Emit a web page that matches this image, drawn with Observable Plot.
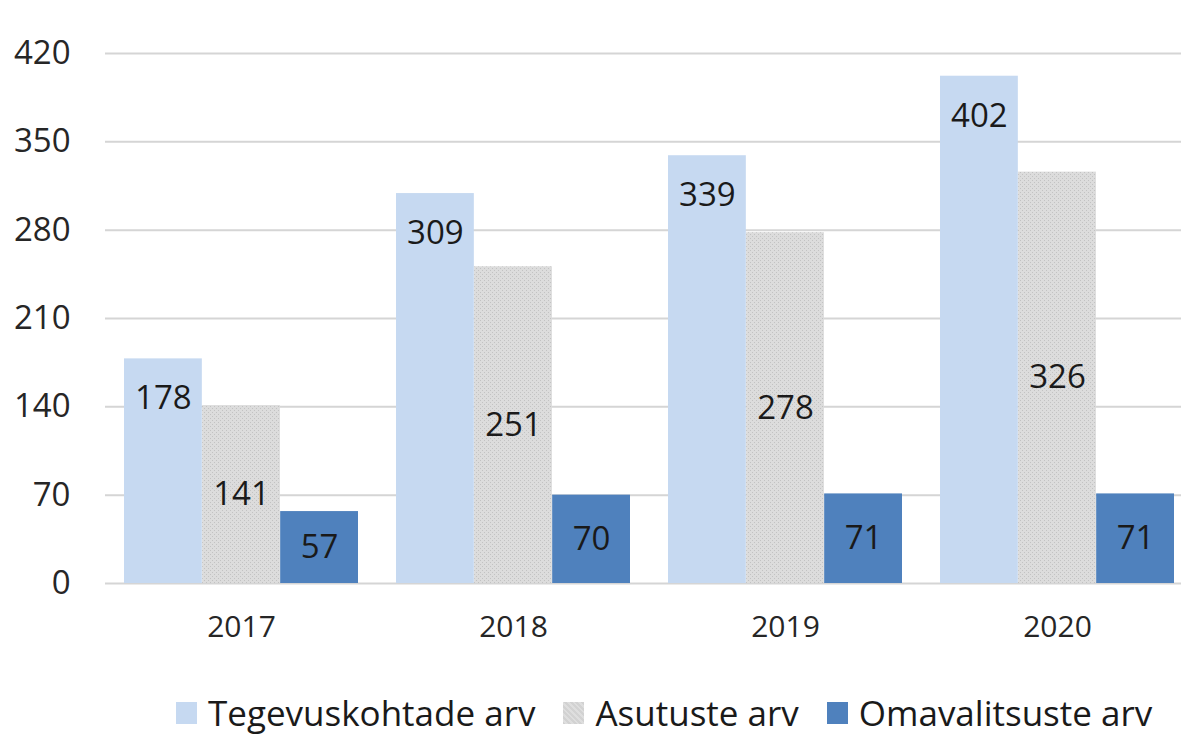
<!DOCTYPE html>
<html>
<head>
<meta charset="utf-8">
<script src="https://cdn.jsdelivr.net/npm/d3@7"></script>
<script src="https://cdn.jsdelivr.net/npm/@observablehq/plot@0.6"></script>
<style>
  html, body { margin: 0; padding: 0; background: #fff; overflow: hidden; }
  #wrap { position: relative; width: 1181px; height: 738px; overflow: hidden; font-family: "Open Sans", sans-serif; }
  #legend { position: absolute; left: 176px; top: 693px; display: flex; align-items: center; white-space: nowrap; }
  .item { display: flex; align-items: center; margin-right: 28px; }
  .sw { width: 21px; height: 22px; margin-right: 11px; }
  .lab { font-size: 35px; line-height: 40px; color: #1a1a1a; }
</style>
</head>
<body>
<div id="wrap"><div id="chart"></div><div id="legend"></div></div>
<script>
// ---- data ----
const years = ["2017", "2018", "2019", "2020"];
const seriesNames = ["Tegevuskohtade arv", "Asutuste arv", "Omavalitsuste arv"];
const tegevuskohtadeArv = [178, 309, 339, 402];
const asutusteArv = [141, 251, 278, 326];
const omavalitsusteArv = [57, 70, 71, 71];
const yTicks = [0, 70, 140, 210, 280, 350, 420];
const colors = ["#c6d9f1", "#d9d9d9", "#4f81bd"];

const seriesValues = [tegevuskohtadeArv, asutusteArv, omavalitsusteArv];
const rows = seriesNames.map((s, si) => years.map((y, yi) => ({year: y, series: s, si, value: seriesValues[si][yi]})));

// ---- layout ----
const W = 1181, H = 660;
const xRange = [103.8, 1194.2], padIn = 0.1407, padOut = 0.07035;
const bw = d3.scaleBand().domain(years).range(xRange).paddingInner(padIn).paddingOuter(padOut).bandwidth();
const third = bw / 3;
const insets = [[0, 2 * third], [third, third], [2 * third, 0]];
const dxs = [-third, 0, third];

const marks = [
  Plot.ruleY(yTicks, {stroke: "#d5d5d5", strokeWidth: 2})
];
rows.forEach((data, si) => {
  marks.push(Plot.barY(data, {x: "year", y: "value", fill: colors[si], insetLeft: insets[si][0], insetRight: insets[si][1]}));
});
// labels: first series near top, others centered
marks.push(Plot.text(rows[0], {x: "year", y: "value", text: d => String(d.value), dx: dxs[0], dy: 40, fontSize: 33, fill: "#1a1a1a"}));
marks.push(Plot.text(rows[1], {x: "year", y: d => d.value / 2, text: d => String(d.value), dx: dxs[1], fontSize: 33, fill: "#1a1a1a"}));
marks.push(Plot.text(rows[2], {x: "year", y: d => d.value / 2, text: d => String(d.value), dx: dxs[2], fontSize: 33, fill: "#1a1a1a"}));
marks.push(Plot.axisX({tickSize: 0, tickPadding: 32, fontSize: 30, fill: "#262626", label: null}));
marks.push(Plot.axisY({ticks: yTicks, tickSize: 0, tickPadding: 35, fontSize: 33, fill: "#262626", label: null, tickFormat: d => String(d)}));

const svg = Plot.plot({
  width: W,
  height: H,
  marginLeft: 105,
  marginRight: 0,
  marginTop: 53,
  marginBottom: H - 583,
  style: {fontFamily: "'Open Sans', sans-serif", background: "#fff", overflow: "hidden"},
  x: {type: "band", domain: years, range: xRange, paddingInner: padIn, paddingOuter: padOut, axis: null},
  y: {domain: [0, 420], axis: null},
  marks
});

// dotted texture for the grey series
const ns = "http://www.w3.org/2000/svg";
const defs = document.createElementNS(ns, "defs");
defs.innerHTML = '<pattern id="greyDots" width="4" height="4" patternUnits="userSpaceOnUse">' +
  '<rect width="4" height="4" fill="#dcdcdc"/>' +
  '<rect x="0" y="0" width="1" height="1" fill="#c2c2c2"/>' +
  '<rect x="2" y="2" width="1" height="1" fill="#c2c2c2"/></pattern>';
svg.insertBefore(defs, svg.firstChild);
svg.querySelectorAll('[fill="#d9d9d9"]').forEach(el => el.setAttribute("fill", "url(#greyDots)"));

document.getElementById("chart").appendChild(svg);

// legend
const legend = document.getElementById("legend");
seriesNames.forEach((s, i) => {
  const item = document.createElement("div");
  item.className = "item";
  const sw = document.createElement("div");
  sw.className = "sw";
  sw.style.background = i === 1 ? "repeating-linear-gradient(45deg,#d2d2d2 0 2px,#dedede 2px 4px)" : colors[i];
  const lab = document.createElement("span");
  lab.className = "lab";
  lab.textContent = s;
  item.appendChild(sw);
  item.appendChild(lab);
  legend.appendChild(item);
});
</script>
</body>
</html>
